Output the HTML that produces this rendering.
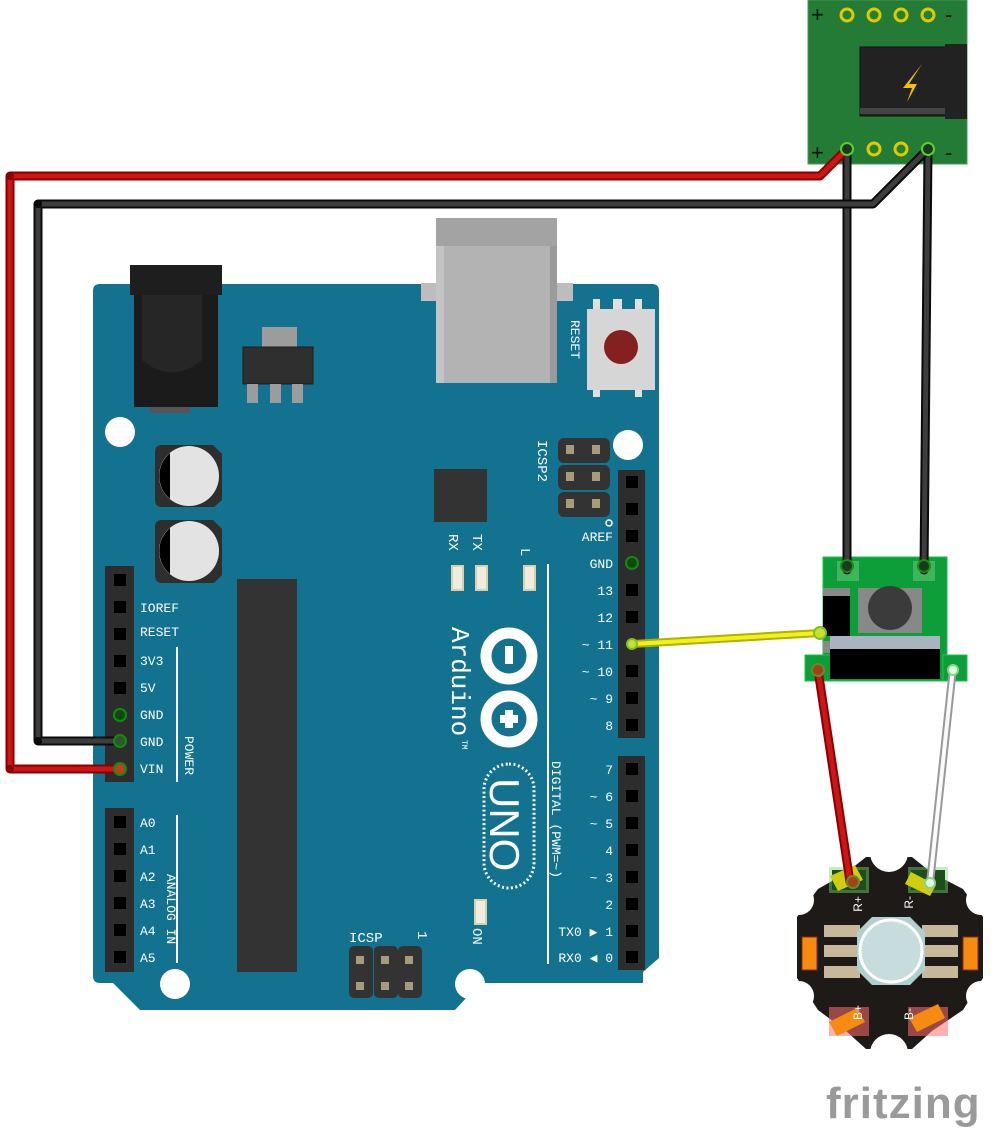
<!DOCTYPE html>
<html><head><meta charset="utf-8"><style>html,body{margin:0;padding:0;background:#fff}svg{display:block}</style></head>
<body>
<svg width="999" height="1131" viewBox="0 0 999 1131" xmlns="http://www.w3.org/2000/svg" font-family="Liberation Mono, monospace">
<!-- Arduino board -->
<path d="M100 284 H652 Q659 284 659 291 V958 L643 972 V983 H480 L455 1010 H140 L113 983 H100 Q93 983 93 976 V291 Q93 284 100 284 Z" fill="#12728f"/>
<!-- USB -->
<rect x="421" y="283" width="152" height="18" fill="#bdbdbd"/>
<rect x="436" y="218" width="121" height="165" fill="#b3b3b3"/>
<rect x="436" y="218" width="8" height="165" fill="#c4c4c4"/>
<rect x="550" y="218" width="7" height="165" fill="#9a9a9a"/>
<rect x="436" y="218" width="121" height="28" fill="#a3a3a3"/>
<!-- reset -->
<rect x="593" y="299" width="7" height="12" fill="#e0e0e0"/><rect x="613" y="299" width="9" height="12" fill="#e0e0e0"/><rect x="635" y="299" width="7" height="12" fill="#e0e0e0"/>
<rect x="593" y="387" width="7" height="10" fill="#e0e0e0"/><rect x="635" y="387" width="7" height="10" fill="#e0e0e0"/>
<rect x="587" y="309" width="68" height="81" fill="#d6d6d6"/>
<circle cx="621" cy="347" r="17" fill="#84201f"/>
<text transform="translate(571,320) rotate(90)" fill="#fff" font-size="13">RESET</text>
<!-- power jack -->
<rect x="130" y="265" width="92" height="30" fill="#1e1e1e"/>
<rect x="134" y="295" width="84" height="112" fill="#1b1b1b"/>
<path d="M142 295 H202 V360 Q172 385 142 360 Z" fill="#262626"/>
<rect x="150" y="407" width="40" height="6" fill="#555"/>
<!-- regulator -->
<rect x="262" y="327" width="35" height="22" fill="#9c9c9c"/>
<rect x="243" y="347" width="70" height="37" fill="#2f2f2f" stroke="#1e1e1e"/>
<rect x="247" y="384" width="11" height="19" fill="#9c9c9c"/><rect x="270" y="384" width="11" height="19" fill="#9c9c9c"/><rect x="292" y="384" width="11" height="19" fill="#9c9c9c"/>
<!-- holes -->
<circle cx="120" cy="432" r="15" fill="#fff"/><circle cx="628" cy="445" r="15" fill="#fff"/>
<circle cx="175" cy="984" r="15" fill="#fff"/><circle cx="470" cy="984" r="15" fill="#fff"/>
<!-- caps -->
<g><path d="M155 452 Q155 445 162 445 H213 L222 454 V500 L214 507 H162 Q155 507 155 500 Z" fill="#2e2e2e"/><circle cx="189" cy="476" r="30" fill="#e3e3e3"/><path d="M170 453 A30 30 0 0 0 170 499 Z" fill="#000"/></g>
<g><path d="M155 527 Q155 520 162 520 H213 L222 529 V575 L214 583 H162 Q155 583 155 575 Z" fill="#2e2e2e"/><circle cx="189" cy="551" r="30" fill="#e3e3e3"/><path d="M170 528 A30 30 0 0 0 170 574 Z" fill="#000"/></g>
<!-- chips -->
<rect x="434" y="469" width="53" height="53" fill="#333"/>
<rect x="237" y="579" width="60" height="393" fill="#333"/>
<!-- ICSP2 -->
<g fill="#333"><rect x="558" y="438" width="52" height="25" rx="6"/><rect x="558" y="465" width="52" height="25" rx="6"/><rect x="558" y="492" width="52" height="25" rx="6"/></g>
<g fill="#a69b7a"><rect x="566" y="445" width="8" height="9"/><rect x="592" y="445" width="8" height="9"/><rect x="566" y="472" width="8" height="9"/><rect x="592" y="472" width="8" height="9"/><rect x="566" y="499" width="8" height="9"/><rect x="592" y="499" width="8" height="9"/></g>
<circle cx="609" cy="523" r="3" fill="none" stroke="#fff" stroke-width="1.5"/>
<text transform="translate(538,440) rotate(90)" fill="#fff" font-size="14">ICSP2</text>
<!-- ICSP -->
<g fill="#333"><rect x="349" y="946" width="24" height="52" rx="5"/><rect x="374" y="946" width="24" height="52" rx="5"/><rect x="398" y="946" width="24" height="52" rx="5"/></g>
<g fill="#a69b7a"><rect x="356" y="956" width="8" height="8"/><rect x="381" y="956" width="8" height="8"/><rect x="405" y="956" width="8" height="8"/><rect x="356" y="982" width="8" height="8"/><rect x="381" y="982" width="8" height="8"/><rect x="405" y="982" width="8" height="8"/></g>
<text x="349" y="942" fill="#fff" font-size="14">ICSP</text>
<text transform="translate(418,931) rotate(90)" fill="#fff" font-size="14">1</text>
<!-- LEDs -->
<g fill="#f0ece0" stroke="#d9cfa8" stroke-width="2"><rect x="452" y="566" width="11" height="24"/><rect x="476" y="566" width="11" height="24"/><rect x="524" y="566" width="11" height="24"/><rect x="475" y="900" width="11" height="24"/></g>
<text transform="translate(449,534) rotate(90)" fill="#fff" font-size="14">RX</text>
<text transform="translate(473,534) rotate(90)" fill="#fff" font-size="14">TX</text>
<text transform="translate(521,548) rotate(90)" fill="#fff" font-size="14">L</text>
<text transform="translate(473,928) rotate(90)" fill="#fff" font-size="14">ON</text>
<!-- logo -->
<text transform="translate(452,627) rotate(90)" fill="#fff" font-size="26">Arduino</text>
<text transform="translate(462,740) rotate(90)" fill="#fff" font-size="8">TM</text>
<g fill="none" stroke="#fff" stroke-width="11"><circle cx="509" cy="656" r="23"/><circle cx="509" cy="719" r="23"/></g>
<rect x="505" y="646" width="8" height="18" fill="#fff"/>
<path d="M500 715 h18 v8 h-18 z M505 710 h8 v18 h-8z" fill="#fff"/>
<rect x="484" y="764" width="50" height="124" rx="25" fill="none" stroke="#fff" stroke-width="3" stroke-dasharray="2 2.5"/>
<text transform="translate(490,778) rotate(90)" fill="#fff" font-size="42" font-family="Liberation Sans, sans-serif">UNO</text>
<!-- lines -->
<g stroke="#fff" stroke-width="2"><line x1="177" y1="647" x2="177" y2="782"/><line x1="177" y1="815" x2="177" y2="963"/><line x1="548" y1="564" x2="548" y2="964"/></g>
<text transform="translate(185,736) rotate(90)" fill="#fff" font-size="13">POWER</text>
<text transform="translate(167,874) rotate(90)" fill="#fff" font-size="13">ANALOG IN</text>
<text transform="translate(552,761) rotate(90)" fill="#fff" font-size="13">DIGITAL (PWM=~)</text>
<!-- left headers -->
<rect x="105" y="566" width="29" height="216" fill="#2d2d2d"/>
<rect x="105" y="808" width="29" height="164" fill="#2d2d2d"/>
<g fill="#000">
<rect x="114" y="574" width="12" height="12"/><rect x="114" y="601" width="12" height="12"/><rect x="114" y="628" width="12" height="12"/><rect x="114" y="655" width="12" height="12"/><rect x="114" y="682" width="12" height="12"/>
<rect x="114" y="816" width="12" height="12"/><rect x="114" y="843" width="12" height="12"/><rect x="114" y="870" width="12" height="12"/><rect x="114" y="897" width="12" height="12"/><rect x="114" y="924" width="12" height="12"/><rect x="114" y="951" width="12" height="12"/>
</g>
<circle cx="120" cy="715" r="6" fill="#0b4a0b" stroke="#138a13" stroke-width="2"/>
<g fill="#fff" font-size="13">
<text x="140" y="612">IOREF</text><text x="140" y="636">RESET</text><text x="140" y="665">3V3</text><text x="140" y="692">5V</text><text x="140" y="719">GND</text><text x="140" y="746">GND</text><text x="140" y="773">VIN</text>
<text x="140" y="827">A0</text><text x="140" y="854">A1</text><text x="140" y="881">A2</text><text x="140" y="908">A3</text><text x="140" y="935">A4</text><text x="140" y="962">A5</text>
</g>
<!-- right headers -->
<rect x="618" y="470" width="27" height="268" fill="#2d2d2d"/>
<rect x="618" y="756" width="27" height="214" fill="#2d2d2d"/>
<g fill="#000">
<rect x="626" y="476" width="12" height="12"/><rect x="626" y="503" width="12" height="12"/><rect x="626" y="530" width="12" height="12"/><rect x="626" y="584" width="12" height="12"/><rect x="626" y="611" width="12" height="12"/><rect x="626" y="665" width="12" height="12"/><rect x="626" y="692" width="12" height="12"/><rect x="626" y="719" width="12" height="12"/>
<rect x="626" y="763" width="12" height="12"/><rect x="626" y="790" width="12" height="12"/><rect x="626" y="817" width="12" height="12"/><rect x="626" y="844" width="12" height="12"/><rect x="626" y="871" width="12" height="12"/><rect x="626" y="898" width="12" height="12"/><rect x="626" y="925" width="12" height="12"/><rect x="626" y="951" width="12" height="12"/>
</g>
<circle cx="632" cy="563" r="6" fill="#0b4a0b" stroke="#138a13" stroke-width="2"/>
<g fill="#fff" font-size="13" text-anchor="end">
<text x="613" y="541">AREF</text><text x="613" y="568">GND</text><text x="613" y="595">13</text><text x="613" y="622">12</text><text x="613" y="649">~ 11</text><text x="613" y="676">~ 10</text><text x="613" y="703">~ 9</text><text x="613" y="730">8</text>
<text x="613" y="774">7</text><text x="613" y="801">~ 6</text><text x="613" y="828">~ 5</text><text x="613" y="855">4</text><text x="613" y="882">~ 3</text><text x="613" y="909">2</text><text x="613" y="936">TX0 ▶ 1</text><text x="613" y="962">RX0 ◀ 0</text>
</g>
<!-- power board top right -->
<rect x="808" y="0" width="159" height="164" fill="#237b35" stroke="#4a9a5a"/>
<g fill="#22802e" stroke="#e0c900" stroke-width="3"><circle cx="847" cy="15" r="6"/><circle cx="874" cy="15" r="6"/><circle cx="901" cy="15" r="6"/><circle cx="928" cy="15" r="6"/><circle cx="874" cy="149" r="6"/><circle cx="901" cy="149" r="6"/></g>
<g fill="#111" font-size="22" font-family="Liberation Sans, sans-serif"><text x="811" y="22">+</text><text x="945" y="22">-</text><text x="811" y="160">+</text><text x="945" y="160">-</text></g>
<rect x="860" y="47" width="86" height="69" fill="#222" stroke="#111"/>
<rect x="860" y="108" width="86" height="6" fill="#444"/>
<rect x="945" y="44" width="22" height="75" fill="#222"/>
<path d="M922 64 L903 88 H912 L907 102 L917 84 H909 Z" fill="#f2c100"/>
<!-- driver board -->
<rect x="823" y="557" width="124" height="124" fill="#0d9e3a" stroke="#19c14a"/>
<rect x="805" y="655" width="28" height="26" fill="#0d9e3a" stroke="#19c14a"/>
<rect x="943" y="655" width="24" height="26" fill="#0d9e3a" stroke="#19c14a"/>
<rect x="837" y="561" width="22" height="20" fill="#3fb55e"/><rect x="913" y="561" width="22" height="20" fill="#3fb55e"/>
<rect x="823" y="588" width="27" height="8" fill="#888"/>
<rect x="823" y="596" width="27" height="40" fill="#000"/>
<rect x="858" y="588" width="64" height="45" fill="#888"/>
<circle cx="890" cy="608" r="22" fill="#3b3b3b"/>
<rect x="830" y="636" width="110" height="13" fill="#aab4c0"/>
<rect x="830" y="649" width="110" height="30" fill="#000"/>
<rect x="823" y="641" width="7" height="12" fill="#888"/>
<!-- LED star -->
<polygon points="818,889 846,873 866,857 912,857 932,873 963,889 983,917 983,978 963,1010 932,1031 912,1049 866,1049 846,1031 818,1010 797,978 797,917" fill="#1e1a17"/>
<g fill="#fff"><circle cx="889" cy="853" r="19"/><circle cx="889" cy="1053" r="19"/><circle cx="799" cy="900" r="15"/><circle cx="799" cy="996" r="15"/><circle cx="981" cy="900" r="15"/><circle cx="981" cy="996" r="15"/></g>
<rect x="829" y="867" width="40" height="26" fill="#6fe06f" opacity="0.45"/>
<rect x="908" y="867" width="40" height="26" fill="#6fe06f" opacity="0.45"/>
<rect x="829" y="1007" width="40" height="29" fill="#ff7070" opacity="0.55"/>
<rect x="908" y="1007" width="40" height="29" fill="#ff7070" opacity="0.55"/>
<rect x="832" y="870" width="34" height="20" fill="#1d4d1b"/><rect x="911" y="870" width="34" height="20" fill="#1d4d1b"/>
<polygon points="830,876 855,865 863,880 838,891" fill="#cfcd10"/>
<polygon points="911,872 936,885 930,896 905,884" fill="#cfcd10"/>
<polygon points="829,1022 857,1008 865,1022 837,1036" fill="#f78a10"/>
<polygon points="909,1018 938,1004 945,1018 917,1032" fill="#f78a10"/>
<g fill="#c7b89c"><rect x="824" y="925" width="36" height="12"/><rect x="824" y="945" width="36" height="12"/><rect x="824" y="966" width="36" height="12"/><rect x="922" y="925" width="36" height="12"/><rect x="922" y="945" width="36" height="12"/><rect x="922" y="966" width="36" height="12"/></g>
<rect x="802" y="937" width="15" height="33" fill="#f78a10" stroke="#8c2c00"/>
<rect x="963" y="937" width="15" height="33" fill="#f78a10" stroke="#8c2c00"/>
<polygon points="872,917 910,917 925,932 925,970 910,985 872,985 857,970 857,932" fill="#b0cfcf"/>
<circle cx="891" cy="951" r="31" fill="#c7dddd" stroke="#fff" stroke-width="3"/>
<g fill="#fff" font-size="12" font-family="Liberation Sans, sans-serif">
<text transform="translate(862,896) rotate(-90)" text-anchor="end">R+</text>
<text transform="translate(913,896) rotate(-90)" text-anchor="end">R-</text>
<text transform="translate(862,1020) rotate(-90)">B+</text>
<text transform="translate(913,1020) rotate(-90)">B-</text>
</g>
<!-- wires -->
<g fill="none" stroke-linecap="round" stroke-linejoin="round">
<polyline points="847,149 847,570" stroke="#0a0a0a" stroke-width="9"/><polyline points="847,149 847,570" stroke="#3d3d3d" stroke-width="5"/>
<polyline points="928,149 924,570" stroke="#0a0a0a" stroke-width="9"/><polyline points="928,149 924,570" stroke="#3d3d3d" stroke-width="5"/>
<polyline points="120,741 38,741 38,204 873,204 928,149" stroke="#0a0a0a" stroke-width="9"/><polyline points="120,741 38,741 38,204 873,204 928,149" stroke="#3d3d3d" stroke-width="5"/>
<polyline points="120,769 10,769 10,176 820,176 847,149" stroke="#8a0000" stroke-width="9"/><polyline points="120,769 10,769 10,176 820,176 847,149" stroke="#cc1515" stroke-width="5"/>
<line x1="632" y1="644" x2="820" y2="633" stroke="#b0b000" stroke-width="8"/><line x1="632" y1="644" x2="820" y2="633" stroke="#f2f21a" stroke-width="4"/>
<line x1="818" y1="670" x2="850" y2="882" stroke="#8a0000" stroke-width="9"/><line x1="818" y1="670" x2="850" y2="882" stroke="#cc1515" stroke-width="5"/>
<line x1="953" y1="668" x2="930" y2="883" stroke="#999" stroke-width="8"/><line x1="953" y1="668" x2="930" y2="883" stroke="#fafafa" stroke-width="4"/>
</g>
<g stroke-width="2"><circle cx="847" cy="149" r="6" fill="#1a3a1a" stroke="#5ad02a"/><circle cx="928" cy="149" r="6" fill="#1a3a1a" stroke="#5ad02a"/>
<circle cx="847" cy="566" r="6" fill="#1a3a1a" stroke="#1b8a1b"/><circle cx="924" cy="566" r="6" fill="#1a3a1a" stroke="#1b8a1b"/>
<circle cx="120" cy="741" r="6" fill="#2a5a2a" stroke="#138a13"/><circle cx="120" cy="769" r="6" fill="#b5441e" stroke="#138a13"/>
<circle cx="632" cy="644" r="5" fill="#c7e02a" stroke="#7ac02a"/><circle cx="820" cy="633" r="6" fill="#c7e02a" stroke="#7ac02a"/>
<circle cx="818" cy="670" r="6" fill="#a3401e" stroke="#6a8a2a"/><circle cx="853" cy="882" r="6" fill="#a3401e" stroke="#6a8a2a"/>
<circle cx="953" cy="670" r="5" fill="#e0ffe0" stroke="#8ad08a"/><circle cx="930" cy="883" r="5" fill="#e0ffe0" stroke="#8ad08a"/></g>
<circle cx="10" cy="176" r="4" fill="#8a0000"/><circle cx="10" cy="769" r="4" fill="#8a0000"/><circle cx="38" cy="204" r="4" fill="#0a0a0a"/><circle cx="38" cy="741" r="4" fill="#0a0a0a"/>
<!-- fritzing -->
<text x="826" y="1118" fill="#9a9a9a" font-size="44" font-family="Liberation Sans, sans-serif" font-weight="bold" letter-spacing="1">fritzing</text>
</svg>
</body></html>
